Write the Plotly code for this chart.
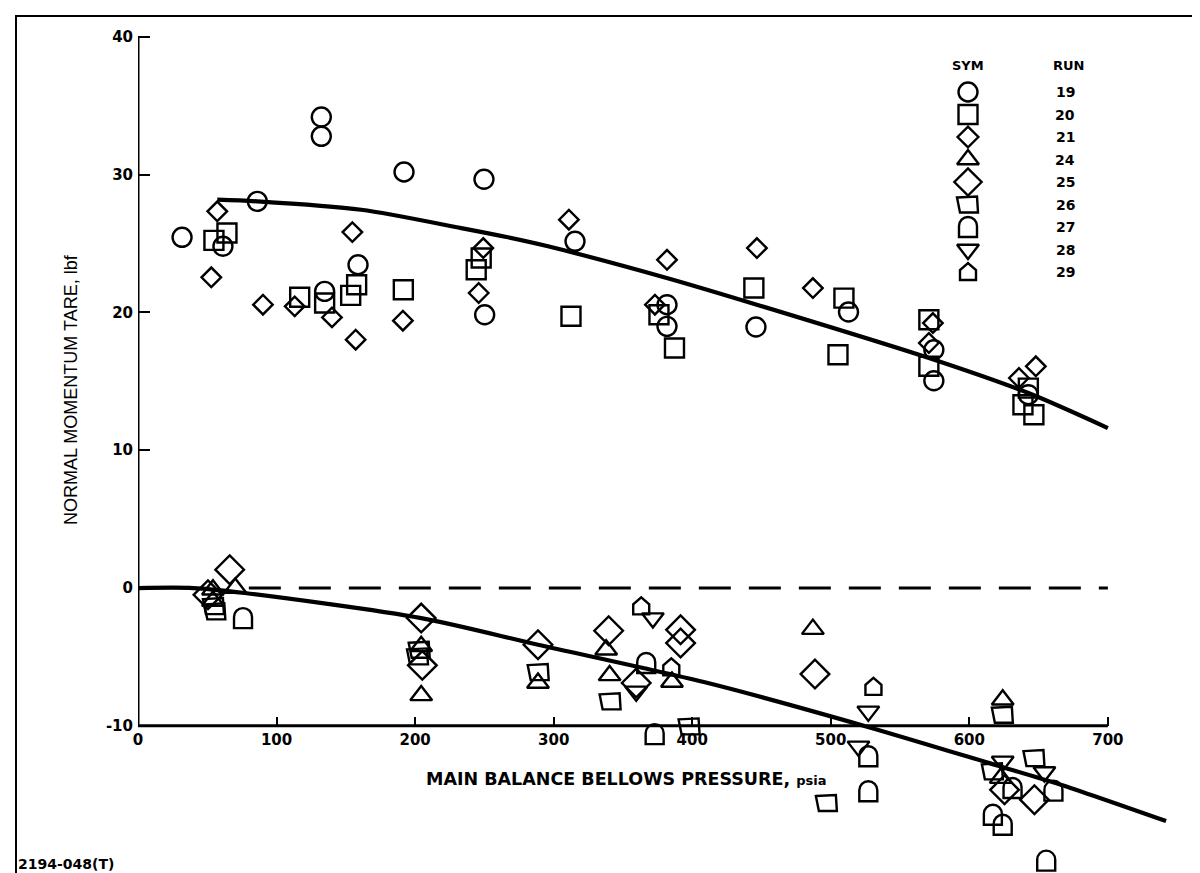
import plotly.graph_objects as go

# ---------------- data ----------------
run19_x = [31.8, 61.3, 86.1, 132.3, 132.3, 134.7, 158.8, 192.0, 249.7, 250.2, 315.4, 381.8, 381.8, 446.0, 512.8, 574.4, 574.4, 642.6]
run19_y = [25.45, 24.8, 28.06, 34.18, 32.78, 21.53, 23.46, 30.19, 29.66, 19.83, 25.16, 20.56, 18.99, 18.94, 20.03, 17.29, 15.04, 14.03]

run20_x = [54.8, 64.2, 116.7, 134.7, 153.5, 157.8, 191.5, 244.1, 247.7, 312.5, 376.0, 387.2, 444.5, 505.2, 509.5, 570.8, 570.8, 638.7, 642.6, 646.6]
run20_y = [25.23, 25.76, 21.10, 20.68, 21.24, 22.01, 21.65, 23.10, 23.95, 19.72, 19.83, 17.42, 21.77, 16.93, 21.04, 19.47, 16.09, 13.30, 14.51, 12.58]

run21_x = [57.2, 52.9, 90.2, 113.1, 140.0, 154.7, 157.1, 191.2, 249.2, 245.9, 311.0, 373.1, 381.8, 446.7, 487.1, 573.7, 570.8, 635.8, 648.0]
run21_y = [27.34, 22.55, 20.56, 20.44, 19.64, 25.83, 18.02, 19.40, 24.67, 21.41, 26.73, 20.56, 23.82, 24.67, 21.77, 19.23, 17.78, 15.24, 16.09]

run24_x = [54.1, 54.1, 70.2, 204.4, 204.4, 288.7, 337.9, 340.4, 385.4, 487.1, 624.1, 622.7]
run24_y = [-0.12, -0.94, 0.0, -4.23, -7.79, -6.89, -4.48, -6.34, -6.82, -2.98, -8.11, -13.79]

run25_x = [66.2, 50.5, 204.4, 205.2, 288.7, 339.7, 359.6, 391.6, 391.6, 488.6, 625.4, 647.0]
run25_y = [1.33, -0.49, -2.18, -5.61, -4.11, -3.10, -6.89, -3.03, -3.99, -6.24, -14.64, -15.36]

run26_x = [55.8, 54.8, 202.1, 203.3, 289.2, 341.1, 398.1, 497.2, 624.2, 617.0, 647.0]
run26_y = [-1.69, -1.31, -4.96, -4.48, -6.10, -8.22, -10.04, -15.60, -9.19, -13.30, -12.34]

run27_x = [75.8, 366.8, 372.9, 527.1, 527.1, 631.2, 617.0, 624.1, 655.5, 660.7]
run27_y = [-2.18, -5.44, -10.6, -12.21, -14.75, -14.51, -16.45, -17.18, -19.78, -14.70]

run28_x = [371.6, 359.6, 527.1, 520.0, 624.1, 654.2]
run28_y = [-2.18, -7.50, -8.95, -11.49, -12.58, -13.35]

run29_x = [363.2, 384.9, 530.8]
run29_y = [-1.33, -5.75, -7.17]

fitU_x = [57.2, 86.1, 161.1, 233.3, 267.0, 295.9, 381.6, 446.6, 570.8, 642.6, 700.0]
fitU_y = [28.18, 28.06, 27.45, 26.12, 25.45, 24.80, 22.50, 20.56, 16.69, 14.15, 11.61]

fitL_x = [0, 40, 77, 204.4, 288.7, 411.3, 525.6, 618.2, 666, 742]
fitL_y = [0, 0, -0.36, -2.18, -4.11, -6.89, -10.04, -12.82, -14.27, -16.91]

zero_x = [80, 700]
zero_y = [0, 0]

x_ticks = [0, 100, 200, 300, 400, 500, 600, 700]
y_ticks = [-10, 0, 10, 20, 30, 40]
run_labels = ["19", "20", "21", "24", "25", "26", "27", "28", "29"]

# ---------------- layout constants ----------------
W, H = 1200, 873
ML, MR, MT, MB = 130, 17, 8, 7
XMIN, XMAX = 0, 760
YMAX, YMIN = 41.51, -20.75
PW, PH = W - ML - MR, H - MT - MB

def px2paper_x(px):
    return (px - ML) / PW

def px2paper_y(py):
    return (H - MB - py) / PH

BLACK = "black"
BOLDFONT = "DejaVu Sans, Liberation Sans, Arial, sans-serif"
LW = 2.4

P26 = "M -11,7 L 9,8 L 10,-8 L -8,-8 Z"
P27 = "M -9,-10 L -9,1 C -9,6 -5,10 0,10 C 5,10 9,6 9,1 L 9,-10 Z"
P29 = "M -8,-8 L -8,2 L 0,9 L 8,2 L 8,-8 Z"

fig = go.Figure()

def add_pts(x, y, symbol, size, xa="x", ya="y"):
    fig.add_trace(go.Scatter(
        x=x, y=y, mode="markers", showlegend=False, xaxis=xa, yaxis=ya,
        cliponaxis=False, hoverinfo="skip",
        marker=dict(symbol=symbol, size=size, color=BLACK, line=dict(width=LW, color=BLACK)),
    ))

shapes = []

def add_glyphs(x, y, path, xref="x", yref="y"):
    for xv, yv in zip(x, y):
        shapes.append(dict(type="path", xref=xref, yref=yref,
                           xsizemode="pixel", ysizemode="pixel",
                           xanchor=xv, yanchor=yv, path=path,
                           line=dict(color=BLACK, width=LW),
                           fillcolor="rgba(0,0,0,0)", layer="above"))

# fitted curves
fig.add_trace(go.Scatter(x=fitU_x, y=fitU_y, mode="lines", showlegend=False, hoverinfo="skip",
                         line=dict(color=BLACK, width=4.2, shape="spline", smoothing=0.8)))
fig.add_trace(go.Scatter(x=fitL_x, y=fitL_y, mode="lines", showlegend=False, hoverinfo="skip",
                         cliponaxis=False,
                         line=dict(color=BLACK, width=4.2, shape="spline", smoothing=0.8)))
fig.add_trace(go.Scatter(x=zero_x, y=zero_y, mode="lines", showlegend=False, hoverinfo="skip",
                         line=dict(color=BLACK, width=3, dash="32px,18px")))

# data points
add_pts(run19_x, run19_y, "circle-open", 19)
add_pts(run20_x, run20_y, "square-open", 19)
add_pts(run21_x, run21_y, "diamond-open", 15)
add_pts(run24_x, run24_y, "triangle-up-open", 19)
add_pts(run25_x, run25_y, "diamond-open", 22)
add_glyphs(run26_x, run26_y, P26)
add_glyphs(run27_x, run27_y, P27)
add_pts(run28_x, run28_y, "triangle-down-open", 19)
add_glyphs(run29_x, run29_y, P29)

# ---------------- manual legend (pixel overlay axes) ----------------
leg_sym_x = 960
leg_num_x = 1057
leg_y0, leg_dy = 84, 22.5
leg_rows = [leg_y0 + i * leg_dy for i in range(len(run_labels))]

add_pts([leg_sym_x], [leg_rows[0]], "circle-open", 19, "x2", "y2")
add_pts([leg_sym_x], [leg_rows[1]], "square-open", 19, "x2", "y2")
add_pts([leg_sym_x], [leg_rows[2]], "diamond-open", 16, "x2", "y2")
add_pts([leg_sym_x], [leg_rows[3]], "triangle-up-open", 19, "x2", "y2")
add_pts([leg_sym_x], [leg_rows[4]], "diamond-open", 21, "x2", "y2")
add_glyphs([leg_sym_x], [leg_rows[5]], P26, "x2", "y2")
add_glyphs([leg_sym_x], [leg_rows[6]], P27, "x2", "y2")
add_pts([leg_sym_x], [leg_rows[7]], "triangle-down-open", 19, "x2", "y2")
add_glyphs([leg_sym_x], [leg_rows[8]], P29, "x2", "y2")

annotations = []
for lab, yy in zip(run_labels, leg_rows):
    annotations.append(dict(xref="x2", yref="y2", x=leg_num_x, y=yy, text=lab, showarrow=False,
                            font=dict(family=BOLDFONT, size=14, color=BLACK, weight="bold"),
                            xanchor="center", yanchor="middle"))
annotations.append(dict(xref="x2", yref="y2", x=leg_sym_x, y=57, text="SYM", showarrow=False,
                        font=dict(family=BOLDFONT, size=13, color=BLACK, weight="bold"),
                        xanchor="center", yanchor="middle"))
annotations.append(dict(xref="x2", yref="y2", x=leg_num_x + 3, y=57, text="RUN", showarrow=False,
                        font=dict(family=BOLDFONT, size=13, color=BLACK, weight="bold"),
                        xanchor="center", yanchor="middle"))

# axis titles and footer
annotations.append(dict(xref="paper", yref="paper", x=px2paper_x(618), y=px2paper_y(771),
                        text="MAIN BALANCE BELLOWS PRESSURE, <span style='font-size:13px'>psia</span>",
                        showarrow=False, xanchor="center", yanchor="middle",
                        font=dict(family=BOLDFONT, size=17.5, color=BLACK, weight="bold")))
annotations.append(dict(xref="paper", yref="paper", x=px2paper_x(63), y=px2paper_y(382),
                        text="NORMAL MOMENTUM TARE, lbf", textangle=-90,
                        showarrow=False, xanchor="center", yanchor="middle",
                        font=dict(family="Liberation Sans, Arial, sans-serif", size=18, color=BLACK)))
annotations.append(dict(xref="paper", yref="paper", x=px2paper_x(8), y=px2paper_y(856),
                        text="2194-048(T)", showarrow=False, xanchor="left", yanchor="middle",
                        font=dict(family=BOLDFONT, size=14, color=BLACK, weight="bold")))

# axis lines (drawn only over the labelled span)
shapes.append(dict(type="line", xref="x", yref="y", x0=0, x1=700, y0=-10, y1=-10,
                   line=dict(color=BLACK, width=3), layer="above"))
shapes.append(dict(type="line", xref="x", yref="y", x0=0, x1=0, y0=-10, y1=40,
                   line=dict(color=BLACK, width=3), layer="above"))
# figure frame
shapes.append(dict(type="rect", xref="paper", yref="paper",
                   x0=px2paper_x(8), x1=px2paper_x(1192), y0=px2paper_y(880), y1=px2paper_y(8),
                   line=dict(color=BLACK, width=2), fillcolor="rgba(0,0,0,0)"))

xpos = (-10 - YMIN) / (YMAX - YMIN)

fig.update_layout(
    width=W, height=H,
    margin=dict(l=ML, r=MR, t=MT, b=MB),
    paper_bgcolor="white", plot_bgcolor="white",
    showlegend=False,
    shapes=shapes,
    annotations=annotations,
    xaxis=dict(range=[XMIN, XMAX], anchor="free", position=xpos,
               showgrid=False, zeroline=False, showline=False,
               tickmode="array", tickvals=x_ticks, ticktext=[str(v) for v in x_ticks],
               ticks="inside", ticklen=9, tickwidth=2, tickcolor=BLACK,
               tickfont=dict(family=BOLDFONT, size=15, color=BLACK, weight="bold"),
               ticklabelstandoff=3),
    yaxis=dict(range=[YMIN, YMAX], anchor="x",
               showgrid=False, zeroline=False, showline=False,
               tickmode="array", tickvals=y_ticks, ticktext=[str(v) for v in y_ticks],
               ticks="inside", ticklen=12, tickwidth=2, tickcolor=BLACK,
               tickfont=dict(family=BOLDFONT, size=15, color=BLACK, weight="bold"),
               ticklabelstandoff=4),
    xaxis2=dict(range=[ML, W - MR], overlaying="x", anchor="y2", visible=False),
    yaxis2=dict(range=[H - MB, MT], overlaying="y", anchor="x2", visible=False),
)

fig.write_html("out.html")
